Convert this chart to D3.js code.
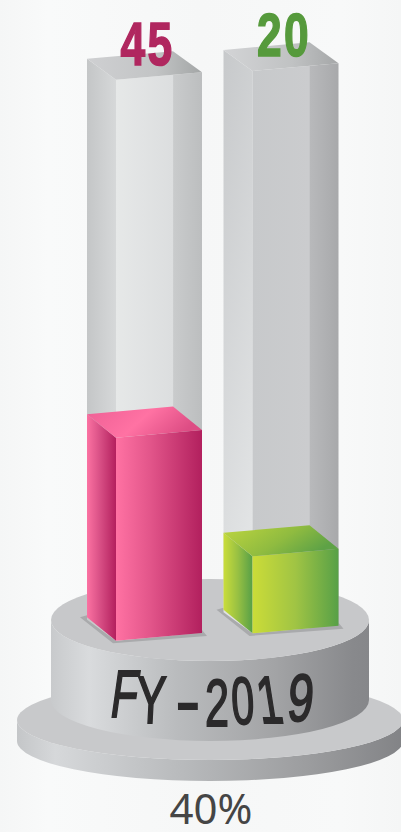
<!DOCTYPE html>
<html><head><meta charset="utf-8">
<style>html,body{margin:0;padding:0;background:#f8f9f9;overflow:hidden}svg{display:block}</style>
<script src="https://cdn.jsdelivr.net/npm/d3@7"></script></head>
<body><svg id="c" width="401" height="832"></svg>
<script>
const categories = ["45", "20"];
const values = [45, 20];
const trackValues = [116, 116.3];
const labelColors = ["#b0275f", "#569a3c"];
const baseLabelChars = ["F","Y","-","2","0","1","9"];
const footLabel = "40%";

const W = 401, H = 832;
const svg = d3.select("#c");
const defs = svg.append("defs");
function grad(id, stops, x1=0, y1=0, x2=1, y2=0){
  const g = defs.append("linearGradient").attr("id", id)
    .attr("x1",x1).attr("y1",y1).attr("x2",x2).attr("y2",y2);
  stops.forEach(s => g.append("stop").attr("offset", s[0]).attr("stop-color", s[1]));
  return `url(#${id})`;
}
grad("bg", [[0,"#f5f6f6"],[0.12,"#f9fafa"],[0.5,"#f6f7f7"],[0.85,"#f8f9f9"],[1,"#f5f6f6"]]);
svg.append("rect").attr("width",W).attr("height",H).attr("fill","url(#bg)");

// scales
const barX = d3.scalePoint().domain(categories).range([87, 223.5]);
const heightScale = d3.scaleLinear().domain([20, 45]).range([77, 203]);
const floorY = d3.scaleLinear().domain([87, 223.5]).range([640.7, 633.3]);
const line = d3.line().curve(d3.curveLinearClosed);
const poly = (sel, pts, fill) => sel.append("path").attr("d", line(pts)).attr("fill", fill);

// pedestal
const cx = 210;
function disc(rx, ry, cy, h, topFill, sideFill){
  const arc = `M${cx-rx},${cy} A${rx},${ry} 0 0 0 ${cx+rx},${cy} L${cx+rx},${cy+h} A${rx},${ry} 0 0 1 ${cx-rx},${cy+h} Z`;
  svg.append("path").attr("d",arc).attr("fill",sideFill);
  svg.append("ellipse").attr("cx",cx).attr("cy",cy).attr("rx",rx).attr("ry",ry).attr("fill",topFill);
}
const sideG = grad("side", [[0,"#c8cacc"],[0.12,"#d9dbdd"],[0.4,"#b9bbbd"],[0.7,"#a3a4a6"],[0.95,"#88898c"],[1,"#86878a"]]);
const sideL = grad("sideL", [[0,"#c4c6c8"],[0.1,"#d6d8da"],[0.45,"#b6b8ba"],[0.75,"#9c9d9f"],[1,"#828386"]]);
disc(193, 40, 720, 21, "#c8c9cb", sideL);
disc(159, 41, 620, 80, "#c7c8ca", sideG);

// gradients for bars & tracks
const fills = [
  { tl: grad("t0l",[[0,"#c4c6c7"],[1,"#d6d8d9"]]),
    tf: grad("t0f",[[0,"#e6e8e8"],[0.66,"#dcdedf"],[0.67,"#c9cbcc"],[1,"#bcbebf"]]),
    tt: grad("t0t",[[0,"#cfd0d2"],[0.6,"#c2c4c5"],[1,"#a3a6a6"]]),
    bl: grad("b0l",[[0,"#fb72a2"],[0.45,"#d84f85"],[1,"#b4205e"]]),
    bf: grad("b0f",[[0,"#ff72a3"],[0.4,"#e2558a"],[1,"#b2205e"]]),
    bt: grad("b0t",[[0,"#ee5f95"],[0.55,"#ff72a3"],[1,"#dd4d84"]],0,0,1,0.3) },
  { tl: grad("t1l",[[0,"#c7c9cb"],[1,"#e2e4e5"]],0,0,0.25,1),
    tf: grad("t1f",[[0,"#c7c9cb"],[0.66,"#cbccce"],[0.67,"#b8b9bb"],[1,"#a8a9ab"]]),
    tt: grad("t1t",[[0,"#d3d4d6"],[0.6,"#c0c2c3"],[1,"#a5a7a8"]]),
    bl: grad("b1l",[[0,"#cadd3a"],[0.5,"#97c043"],[1,"#57a047"]]),
    bf: grad("b1f",[[0,"#cbdc38"],[0.5,"#a0c444"],[1,"#57a047"]]),
    bt: grad("b1t",[[0,"#bfd63e"],[0.6,"#8fbb40"],[1,"#5ea246"]],0,0,1,0.4) }
];

const faceW = 86, depthX = 29, depthBar = 23.5, depthTrack = 21, slope = 7.6;
function box(g, x, base, h, depth, fl, ff, ft){
  const fb = base, ft0 = base - h;
  poly(g, [[x,fb-depth],[x+depthX,fb],[x+depthX,ft0],[x,ft0-depth]], fl);
  poly(g, [[x+depthX,fb],[x+depthX+faceW,fb-slope],[x+depthX+faceW,ft0-slope],[x+depthX,ft0]], ff);
  poly(g, [[x,ft0-depth],[x+depthX,ft0],[x+depthX+faceW,ft0-slope],[x+faceW,ft0-depth-slope]], ft);
}
const narrow = "'Liberation Sans Narrow','Liberation Sans',sans-serif";
categories.forEach((c,i)=>{
  const x = barX(c), base = floorY(x), g = svg.append("g");
  // shadow
  poly(g, [[x-7,base-depthBar],[x+depthX-3,base+2.6],[x+depthX+faceW+5,base-slope+3],[x+depthX+faceW,base-slope-3],[x+depthX,base-3],[x,base-depthBar-2]], "#a9aaac");
  // track
  const hTrack = heightScale(trackValues[i]);
  box(g, x, base, hTrack, depthTrack, fills[i].tl, fills[i].tf, fills[i].tt);
  // bar
  box(g, x, base, heightScale(values[i]), depthBar, fills[i].bl, fills[i].bf, fills[i].bt);
  // value label
  const top = base - hTrack;
  svg.append("text").text(c)
    .attr("transform",`translate(${x+depthX+faceW/2-11.5},${top-15}) scale(0.82,1.14)`)
    .attr("text-anchor","middle")
    .attr("font-family",narrow).attr("letter-spacing",3)
    .attr("font-weight","700").attr("font-size",54)
    .attr("fill",labelColors[i]).attr("stroke",labelColors[i]).attr("stroke-width",1.4);
});

// curved FY label
const letterX = [122,150,188,217,244,273,299];
const letterY = [717,723,724,726,724,723,720.5];
const letterSkew = [-8,-3,0,0,3,9,-5];
const letterSX = [0.82,0.82,1.35,0.8,0.76,0.8,0.86];
baseLabelChars.forEach((ch,i)=>{
  svg.append("text").text(ch)
    .attr("transform",`translate(${letterX[i]},${letterY[i]}) skewX(${letterSkew[i]}) scale(${letterSX[i]},1.24)`)
    .attr("text-anchor","middle")
    .attr("font-family",narrow)
    .attr("font-size",54).attr("fill","#2b2a2b").attr("stroke","#2b2a2b").attr("stroke-width",1.5);
});

svg.append("text").text(footLabel).attr("x",211).attr("y",824)
  .attr("text-anchor","middle").attr("font-family","'Noto Sans',sans-serif")
  .attr("font-size",42).attr("fill","#454545");
</script></body></html>
